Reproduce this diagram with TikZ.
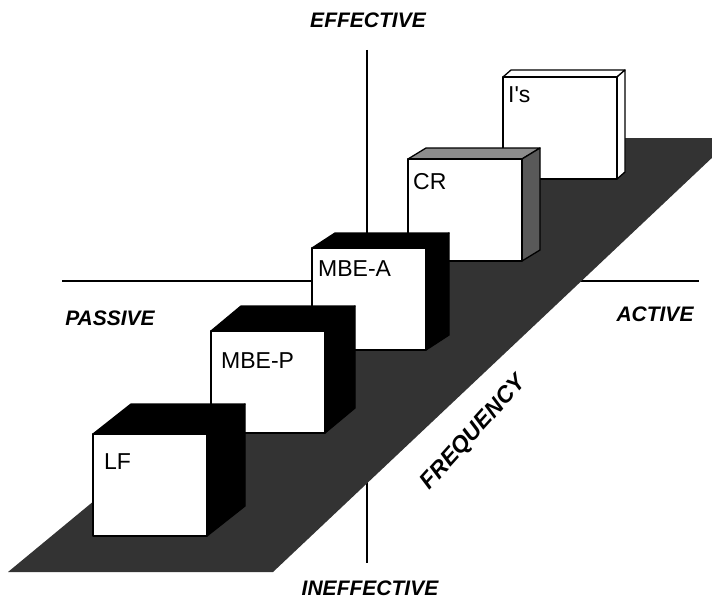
\documentclass[tikz,border=0pt]{standalone}
\usepackage{fontspec}
\setmainfont{Liberation Sans}
\newfontfamily\labelfont{Liberation Sans}
\usetikzlibrary{calc,positioning}
\tikzset{
	quadrant diagram/.style={
		x=1pt, y=-1pt,
		line join=round,
		axis/.style={draw, line width=1.1pt},
		label/.style={font=\labelfont\fontsize{23}{25}\selectfont, inner sep=0pt},
		pole/.style={font=\fontsize{21}{24}\selectfont\bfseries\itshape, inner sep=0pt},
		floor/.style={fill=black!80}
		},
	cube line/.style={line width=1.3pt},
	% #1 = depth offset, #2 = top fill, #3 = side fill
	cube/.code n args={3}{
		\pgfkeysalso{draw,fill=white,cube line,minimum width=114pt,minimum height=102pt,
			outer sep=0pt,inner sep=0pt,
			prefix after command={\pgfextra{\let\fixname\tikzlastnode}},
			append after command={\pgfextra{
				\filldraw[cube line,fill=#2] (\fixname.north west) -- ++(#1)
					-- ($(\fixname.north east)+(#1)$) -- (\fixname.north east) -- cycle;
				\filldraw[cube line,fill=#3] (\fixname.north east) -- ++(#1)
					-- ($(\fixname.south east)+(#1)$) -- (\fixname.south east) -- cycle;
			}}}
	}
}

\begin{document}
\begin{tikzpicture}[quadrant diagram]
	\useasboundingbox (0,0) rectangle (712,602);
	% axes
	\coordinate (v top) at (367,50);
	\coordinate (v bottom) at (367,563);
	\coordinate (h left) at (62,281);
	\coordinate (h right) at (699,281);
	\draw[axis] (v top) -- (v bottom);
	\draw[axis] (h left) -- (h right);
	\node[pole] (effective) at (368,20) {EFFECTIVE};
	\node[pole] (ineffective) at (370,588) {INEFFECTIVE};
	\node[pole] (passive) at (110,318) {PASSIVE};
	\node[pole] (active) at (655,314) {ACTIVE};
	% floor
	\coordinate (floor a) at (8,572);
	\coordinate (floor b) at (273,572);
	\coordinate (floor c) at (733,138);
	\coordinate (floor d) at (533,138);
	\begin{scope}
		\clip (0,0) rectangle (712,602);
		\fill[floor] (floor a) -- (floor b) -- (floor c) -- (floor d) -- cycle;
	\end{scope}
	\node[pole, font=\fontsize{23}{25}\selectfont\bfseries\itshape, rotate=48] (frequency) at (474,433) {FREQUENCY};
	% boxes, back to front
	\node[cube={8,-7}{white}{white}] (Is) at (560,128) {};
	\node[cube={18,-11}{black!45}{black!65}] (CR) at (465,210) {};
	\node[cube={23,-15}{black}{black}] (MBEA) at (369,299) {};
	\node[cube={30,-25}{black}{black}] (MBEP) at (268,382) {};
	\node[cube={38,-30}{black}{black}] (LF) at (150,485) {};
	\draw[label]
		node[below right=9pt and 5pt of Is.north west]     {I's}
		node[below right=14pt and 5pt of CR.north west]    {CR}
		node[below right=12pt and 6pt of MBEA.north west]  {MBE-A}
		node[below right=21pt and 10pt of MBEP.north west] {MBE-P}
		node[below right=19pt and 11pt of LF.north west]   {LF};
\end{tikzpicture}
\end{document}
